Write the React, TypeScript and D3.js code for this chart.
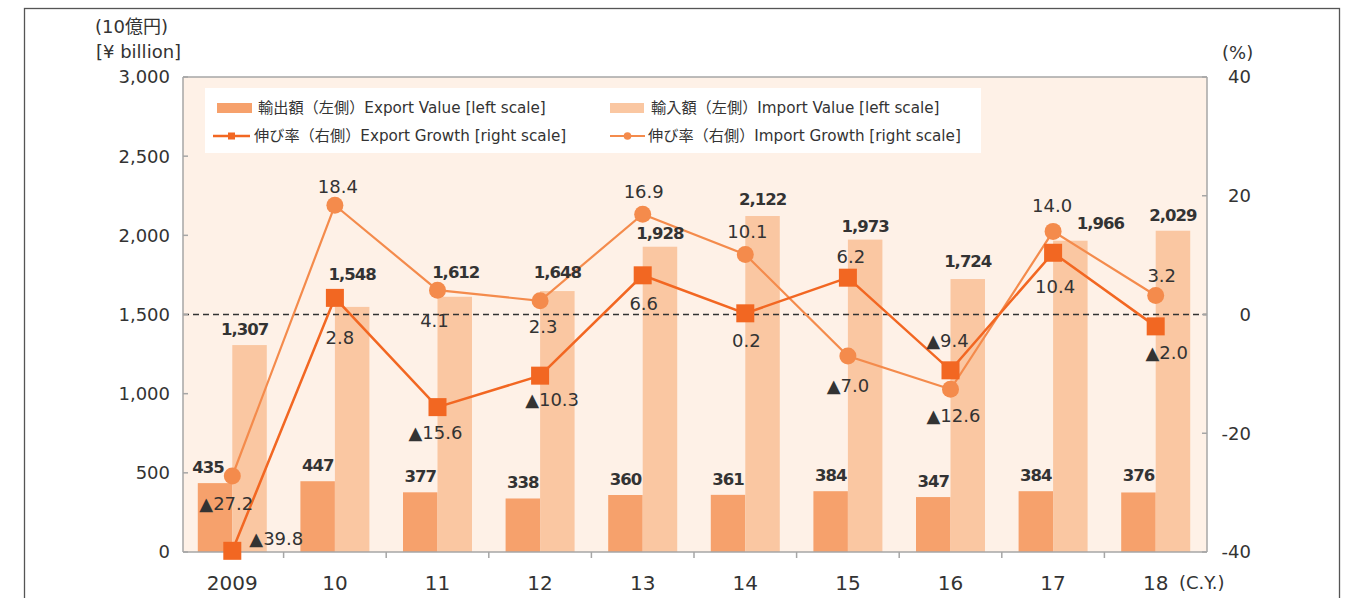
import React from "react";
import * as d3 from "d3";

const categories = ["2009", "10", "11", "12", "13", "14", "15", "16", "17", "18"];
const exportValue = [435, 447, 377, 338, 360, 361, 384, 347, 384, 376];
const importValue = [1307, 1548, 1612, 1648, 1928, 2122, 1973, 1724, 1966, 2029];
const exportGrowth = [-39.8, 2.8, -15.6, -10.3, 6.6, 0.2, 6.2, -9.4, 10.4, -2.0];
const importGrowth = [-27.2, 18.4, 4.1, 2.3, 16.9, 10.1, -7.0, -12.6, 14.0, 3.2];
const leftTicks = [0, 500, 1000, 1500, 2000, 2500, 3000];
const rightTicks = [-40, -20, 0, 20, 40];

// label nudges (layout only): [dx, dy] of the label centre from its anchor
const exportValueNudge = [[-7, -16], [0, -16], [0, -16], [0, -16], [0, -16], [0, -16], [0, -16], [0, -16], [0, -16], [0, -17]];
const importValueNudge = [[-5, -16], [0, -33], [1, -25], [0, -19], [0, -14], [0, -17], [0, -14], [0, -18], [30, -18], [0, -16]];
const exportGrowthNudge = [[44, -12], [5, 40], [-2, 25], [12, 24], [1, 28], [1, 27], [3, -21], [-3, -30], [2, 34], [11, 26]];
const importGrowthNudge = [[-6, 28], [3, -19], [-3, 30], [3, 26], [1, -23], [2, -23], [0, 29], [3, 26], [-1, -26], [6, -20]];

const W = 1358;
const H = 598;
const plotL = 183;
const plotR = 1207;
const plotT = 77;
const plotB = 552;

const C_EXP_BAR = "#F6A16C";
const C_IMP_BAR = "#FAC7A2";
const C_EXP_LINE = "#F26722";
const C_IMP_LINE = "#F48B4C";
const C_BG = "#FEF1E7";
const C_TEXT = "#333333";
const C_AXIS = "#A6A6A6";
const FONT = "'DejaVu Sans', Verdana, 'Noto Sans CJK JP', sans-serif";

const x = d3.scaleBand<string>().domain(categories).range([181, 1207]).padding(0);
const yL = d3.scaleLinear().domain([0, 3000]).range([plotB, plotT]);
const yR = d3.scaleLinear().domain([-40, 40]).range([plotB, plotT]);
const fmtVal = d3.format(",");
const fmtGrowth = (v: number) => (v < 0 ? "▲" + Math.abs(v).toFixed(1) : v.toFixed(1));

export default function App() {
  const bw = 34.5;
  const cx = (c: string) => (x(c) as number) + x.bandwidth() / 2;
  const line = d3
    .line<number>()
    .x((_, i) => cx(categories[i]))
    .y((d) => yR(d));

  return (
    <svg
      width={W}
      height={H}
      style={{ position: "absolute", left: 0, top: 0, background: "#fff" }}
      fontFamily={FONT}
    >
      {/* outer frame */}
      <rect x={24.5} y={8.5} width={1315} height={620} fill="none" stroke="#555" strokeWidth={1.3} />

      {/* plot background */}
      <rect x={plotL} y={plotT} width={plotR - plotL} height={plotB - plotT} fill={C_BG} />

      {/* bars */}
      {categories.map((c, i) => (
        <g key={"b" + c}>
          <rect x={cx(c) - bw} y={yL(exportValue[i])} width={bw} height={plotB - yL(exportValue[i])} fill={C_EXP_BAR} />
          <rect x={cx(c)} y={yL(importValue[i])} width={bw} height={plotB - yL(importValue[i])} fill={C_IMP_BAR} />
        </g>
      ))}

      {/* zero line of right scale */}
      <line x1={plotL} x2={plotR} y1={yR(0)} y2={yR(0)} stroke="#333" strokeWidth={1.3} strokeDasharray="6,4" />

      {/* plot border / axes */}
      <line x1={plotL} x2={plotR} y1={plotT} y2={plotT} stroke={C_AXIS} strokeWidth={1.5} />
      <line x1={plotL} x2={plotL} y1={plotT} y2={plotB} stroke={C_AXIS} strokeWidth={1.5} />
      <line x1={plotR} x2={plotR} y1={plotT} y2={plotB} stroke={C_AXIS} strokeWidth={1.5} />
      <line x1={plotL} x2={plotR} y1={plotB} y2={plotB} stroke={C_AXIS} strokeWidth={1.5} />
      {leftTicks.map((t) => (
        <g key={"lt" + t}>
          <line x1={plotL} x2={plotL + 5} y1={yL(t)} y2={yL(t)} stroke={C_AXIS} strokeWidth={1.5} />
          <text x={170} y={yL(t)} dy="0.36em" textAnchor="end" fontSize={18} fill={C_TEXT}>
            {fmtVal(t)}
          </text>
        </g>
      ))}
      {rightTicks.map((t) => (
        <g key={"rt" + t}>
          <line x1={plotR - 5} x2={plotR} y1={yR(t)} y2={yR(t)} stroke={C_AXIS} strokeWidth={1.5} />
          <text x={1251} y={yR(t)} dy="0.36em" textAnchor="end" fontSize={18} fill={C_TEXT}>
            {t}
          </text>
        </g>
      ))}
      {categories.map((c, i) =>
        i === 0 ? null : (
          <line key={"xt" + c} x1={x(c) as number} x2={x(c) as number} y1={plotB} y2={plotB + 6} stroke={C_AXIS} strokeWidth={1.5} />
        )
      )}
      {categories.map((c) => (
        <text key={"xl" + c} x={cx(c)} y={583} dy="0.36em" textAnchor="middle" fontSize={20} fill={C_TEXT}>
          {c}
        </text>
      ))}
      <text x={1179} y={583} dy="0.36em" fontSize={18} fill={C_TEXT}>(C.Y.)</text>

      {/* axis units */}
      <text x={95} y={27} dy="0.36em" fontSize={18} fill={C_TEXT}>(10億円)</text>
      <text x={96} y={52} dy="0.36em" fontSize={18} fill={C_TEXT}>[¥ billion]</text>
      <text x={1222} y={53} dy="0.36em" fontSize={18} fill={C_TEXT}>(%)</text>

      {/* lines */}
      <path d={line(importGrowth) as string} fill="none" stroke={C_IMP_LINE} strokeWidth={2.2} />
      <path d={line(exportGrowth) as string} fill="none" stroke={C_EXP_LINE} strokeWidth={2.5} />
      {importGrowth.map((v, i) => (
        <circle key={"ic" + i} cx={cx(categories[i])} cy={yR(v)} r={8.5} fill={C_IMP_LINE} />
      ))}
      {exportGrowth.map((v, i) => (
        <rect key={"es" + i} x={cx(categories[i]) - 9} y={yR(v) - 9} width={18} height={18} fill={C_EXP_LINE} />
      ))}

      {/* value labels */}
      {exportValue.map((v, i) => (
        <text
          key={"evl" + i}
          x={cx(categories[i]) - bw / 2 + exportValueNudge[i][0]}
          y={yL(v) + exportValueNudge[i][1]}
          dy="0.36em"
          textAnchor="middle"
          fontSize={16.5}
          fontWeight="bold"
          letterSpacing={-1}
          fill={C_TEXT}
        >
          {fmtVal(v)}
        </text>
      ))}
      {importValue.map((v, i) => (
        <text
          key={"ivl" + i}
          x={cx(categories[i]) + bw / 2 + importValueNudge[i][0]}
          y={yL(v) + importValueNudge[i][1]}
          dy="0.36em"
          textAnchor="middle"
          fontSize={16.5}
          fontWeight="bold"
          letterSpacing={-1}
          fill={C_TEXT}
        >
          {fmtVal(v)}
        </text>
      ))}
      {exportGrowth.map((v, i) => (
        <text
          key={"egl" + i}
          x={cx(categories[i]) + exportGrowthNudge[i][0]}
          y={yR(v) + exportGrowthNudge[i][1]}
          dy="0.36em"
          textAnchor="middle"
          fontSize={18}
          fill={C_TEXT}
        >
          {fmtGrowth(v)}
        </text>
      ))}
      {importGrowth.map((v, i) => (
        <text
          key={"igl" + i}
          x={cx(categories[i]) + importGrowthNudge[i][0]}
          y={yR(v) + importGrowthNudge[i][1]}
          dy="0.36em"
          textAnchor="middle"
          fontSize={18}
          fill={C_TEXT}
        >
          {fmtGrowth(v)}
        </text>
      ))}

      {/* legend */}
      <rect x={205} y={88} width={776} height={65} fill="#fff" />
      <rect x={217} y={103} width={35} height={10} fill={C_EXP_BAR} />
      <text x={258} y={108} dy="0.36em" fontSize={15.2} fill={C_TEXT}>輸出額（左側）Export Value [left scale]</text>
      <rect x={610} y={103} width={34} height={10} fill={C_IMP_BAR} />
      <text x={651} y={108} dy="0.36em" fontSize={15.2} fill={C_TEXT}>輸入額（左側）Import Value [left scale]</text>
      <line x1={213} x2={250} y1={136} y2={136} stroke={C_EXP_LINE} strokeWidth={2.5} />
      <rect x={228} y={132.5} width={7} height={7} fill={C_EXP_LINE} />
      <text x={254} y={136} dy="0.36em" fontSize={15.2} fill={C_TEXT}>伸び率（右側）Export Growth [right scale]</text>
      <line x1={610} x2={645} y1={136} y2={136} stroke={C_IMP_LINE} strokeWidth={2} />
      <circle cx={627.5} cy={136} r={3.8} fill={C_IMP_LINE} />
      <text x={648} y={136} dy="0.36em" fontSize={15.2} fill={C_TEXT}>伸び率（右側）Import Growth [right scale]</text>
    </svg>
  );
}
